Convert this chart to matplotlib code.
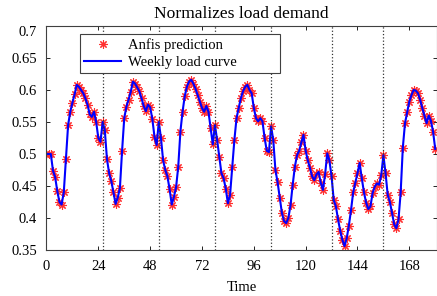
import numpy as np
import matplotlib.pyplot as plt

plt.rcParams['font.family'] = ['Liberation Serif', 'DejaVu Serif']
plt.rcParams['font.size'] = 10.5

# hourly normalised load
load = [
    0.500, 0.500, 0.500, 0.474, 0.464, 0.442, 0.425, 0.421, 0.440, 0.492,
    0.545, 0.566, 0.580, 0.593, 0.608, 0.605, 0.600, 0.595, 0.587, 0.577,
    0.562, 0.558, 0.566, 0.550, 0.525, 0.519, 0.550,
    0.537, 0.492, 0.470, 0.458, 0.440, 0.422, 0.432, 0.447, 0.505, 0.556,
    0.574, 0.585, 0.597, 0.613, 0.610, 0.604, 0.598, 0.587, 0.575, 0.567,
    0.577, 0.573, 0.555, 0.527, 0.514, 0.550,
    0.525, 0.490, 0.475, 0.465, 0.445, 0.421, 0.433, 0.448, 0.480, 0.535,
    0.566, 0.590, 0.605, 0.613, 0.616, 0.610, 0.602, 0.592, 0.582, 0.572,
    0.566, 0.575, 0.566, 0.540, 0.515, 0.545,
    0.522, 0.496, 0.470, 0.462, 0.446, 0.423, 0.436, 0.480, 0.522, 0.556,
    0.572, 0.587, 0.598, 0.605, 0.608, 0.600, 0.595, 0.572, 0.556, 0.551,
    0.556, 0.551, 0.525, 0.505, 0.503, 0.543,
    0.522, 0.475, 0.456, 0.432, 0.408, 0.395, 0.392, 0.400, 0.420, 0.452,
    0.480, 0.498, 0.505, 0.518, 0.530, 0.505, 0.490, 0.478, 0.465, 0.459,
    0.468, 0.472, 0.455, 0.444, 0.468, 0.501, 0.490, 0.465,
    0.428, 0.418, 0.398, 0.380, 0.366, 0.356, 0.368, 0.388, 0.412, 0.440,
    0.455, 0.470, 0.486, 0.462, 0.440, 0.424, 0.414, 0.418, 0.439, 0.449,
    0.454, 0.452, 0.467, 0.498,
    0.470, 0.436, 0.425, 0.408, 0.390, 0.384, 0.398, 0.440, 0.510, 0.548,
    0.565, 0.582, 0.592, 0.600, 0.599, 0.595, 0.585, 0.572, 0.560, 0.548,
    0.560, 0.552, 0.535, 0.508,
]
hours = np.arange(len(load))
day_marks = [26, 52, 78, 104, 132, 156]
xticks = [0, 24, 48, 72, 96, 120, 144, 168]
yticks = [0.35, 0.4, 0.45, 0.5, 0.55, 0.6, 0.65, 0.7]

fig = plt.figure(figsize=(4.37, 2.96), dpi=100)
ax = fig.add_axes([0.1064, 0.1554, 0.8925, 0.7568])

ax.plot(hours, load, linestyle='none', marker=(8, 2, 0), markersize=6,
        markeredgewidth=0.8, color='#ff3030', label='Anfis prediction')
ax.plot(hours, load, color='#0000ff', linewidth=1.5, label='Weekly load curve')

for d in day_marks:
    ax.axvline(d, color='#333333', linestyle=':', linewidth=0.9)

ax.set_xlim(0, 180.6)
ax.set_ylim(0.35, 0.7)
ax.set_xticks(xticks)
ax.set_yticks(yticks)
ax.set_yticklabels(['0.35', '0.4', '0.45', '0.5', '0.55', '0.6', '0.65', '0.7'])
ax.get_yticklabels()[-1].set_verticalalignment('top')
ax.tick_params(direction='in', top=True, right=True, length=3, width=0.6)
ax.tick_params(axis='x', pad=7)
ax.tick_params(axis='y', pad=7)
for s in ax.spines.values():
    s.set_color('#404040')
    s.set_linewidth(0.8)

ax.set_title('Normalizes load demand', pad=6)
ax.set_xlabel('Time', labelpad=6)

leg = ax.legend(loc='upper left', bbox_to_anchor=(0.086, 0.0, 0.513, 0.964),
                mode='expand', borderaxespad=0, fancybox=False,
                edgecolor='#404040', framealpha=1, handlelength=2.5,
                borderpad=0.3, labelspacing=0.25, handletextpad=0.5)
leg.get_frame().set_linewidth(0.8)

fig.savefig('out.png', dpi=100)
